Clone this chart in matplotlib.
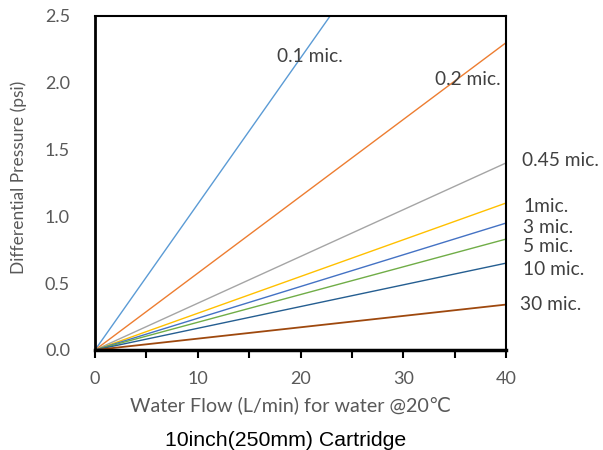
import matplotlib
matplotlib.use("Agg")
import matplotlib.pyplot as plt
import numpy as np

flow = [0, 40]
series_names = ["0.1 mic.", "0.2 mic.", "0.45 mic.", "1mic.", "3 mic.", "5 mic.", "10 mic.", "30 mic."]
pressure_at_40 = [4.37, 2.30, 1.40, 1.10, 0.95, 0.83, 0.65, 0.34]
colors = ["#5B9BD5", "#ED7D31", "#A5A5A5", "#FFC000", "#4472C4", "#70AD47", "#255E91", "#9E480E"]
label_pos = [(17.7, 2.195), (33.1, 2.025), (41.55, 1.415), (41.65, 1.075), (41.65, 0.92),
             (41.65, 0.771), (41.65, 0.599), (41.36, 0.337)]
yticks = [0.0, 0.5, 1.0, 1.5, 2.0, 2.5]

fam = ["Lato", "DejaVu Sans"]
gray = "#595959"

fig = plt.figure(figsize=(6.03, 4.5), dpi=100)
ax = fig.add_axes([95/603, 1-350/450, 411/603, 334/450])

for name, p, c, lp in zip(series_names, pressure_at_40, colors, label_pos):
    lw = 1.3 if name == "30 mic." else 1.0
    ax.plot(flow, [0, p], color=c, lw=lw, clip_on=True)
    ax.text(lp[0], lp[1], name, fontsize=13.8, color="#404040", family=fam,
            va="center", ha="left", clip_on=False)

ax.set_xlim(0, 40)
ax.set_ylim(0, 2.5)
ax.set_xticks(np.arange(0, 41, 5))
ax.set_xticklabels([str(v) if v % 10 == 0 else "" for v in np.arange(0, 41, 5)])
ax.set_yticks(yticks)
ax.set_yticklabels([f"{v:.1f}" for v in yticks])
ax.tick_params(axis="x", direction="out", length=6, width=1.5, colors="black",
               labelcolor=gray, labelsize=13, pad=9)
ax.tick_params(axis="y", length=0, labelcolor=gray, labelsize=13, pad=18)
for lab in ax.get_xticklabels() + ax.get_yticklabels():
    lab.set_family(fam)

ax.spines["bottom"].set_linewidth(2.5)
ax.spines["left"].set_linewidth(2.0)
ax.spines["top"].set_linewidth(1.5)
ax.spines["right"].set_linewidth(1.5)
for s in ax.spines.values():
    s.set_color("black")

ax.set_xlabel("Water Flow (L/min) for water @20℃", fontsize=14.2, color=gray, family=fam, va="center")
ax.xaxis.set_label_coords((291-95)/411, (350-405)/334)
ax.set_ylabel("Differential Pressure (psi)", fontsize=12.5, color=gray, family=fam, va="center")
ax.yaxis.set_label_coords((19-95)/411, 0.518)

fig.text(286/603, 1-440/450, "10inch(250mm) Cartridge", fontsize=15.3, color="black",
         family=["Liberation Sans", "DejaVu Sans"], ha="center", va="center")

fig.savefig("out.png", dpi=100)
